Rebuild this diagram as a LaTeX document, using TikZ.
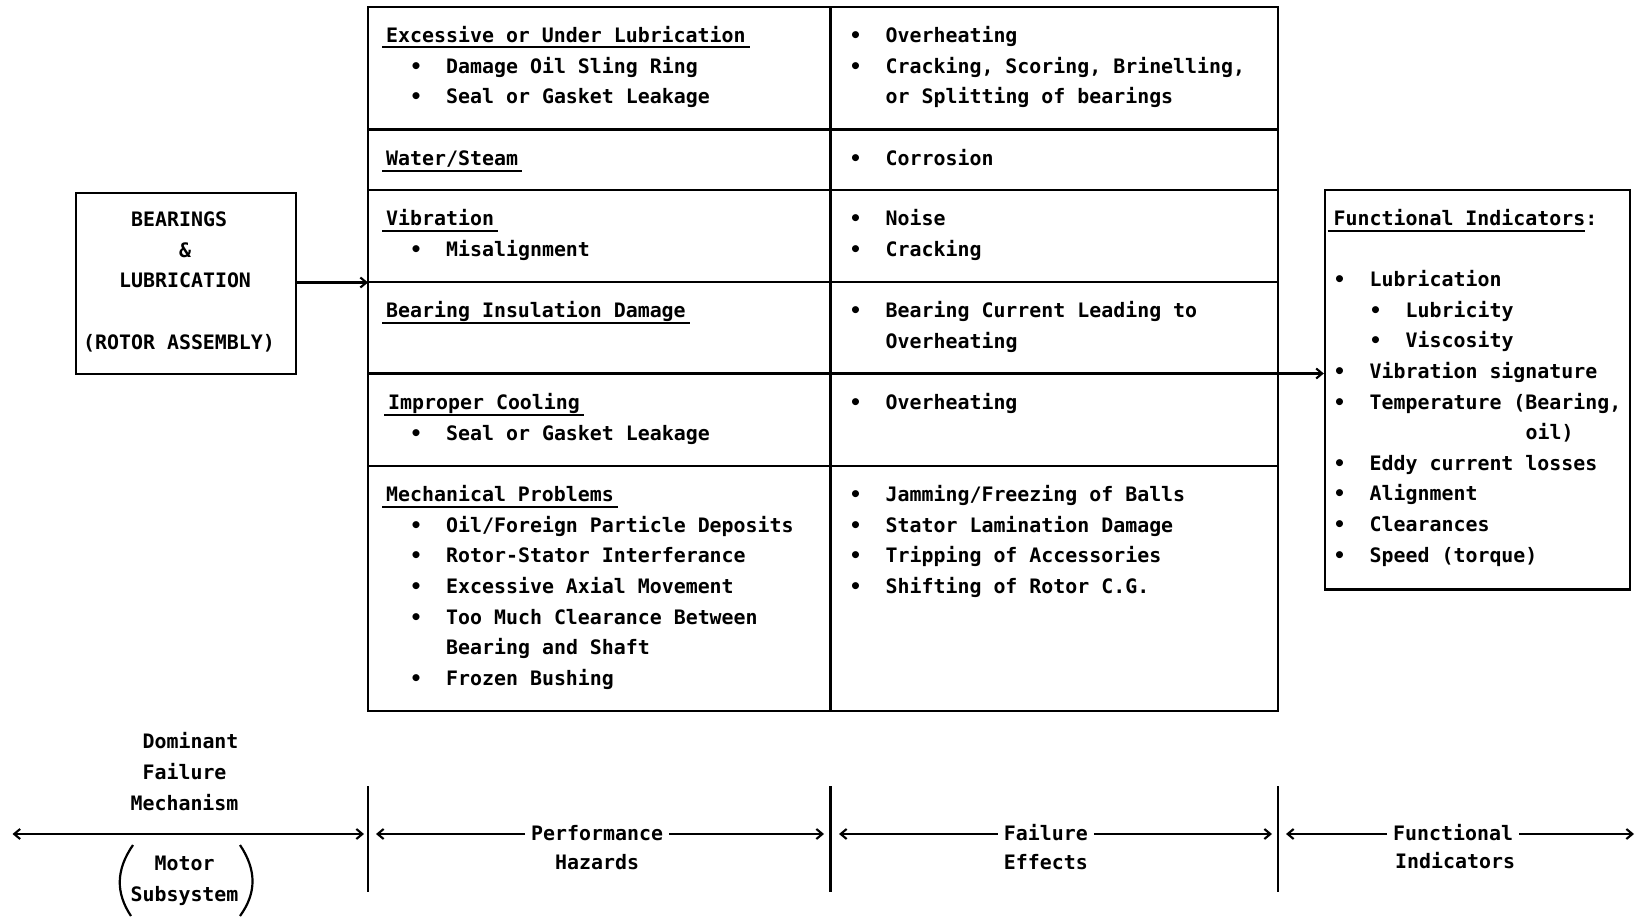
\documentclass[tikz,border=0pt]{standalone}
\usepackage{fontspec}
\setmainfont{DejaVu Sans Mono}
\usetikzlibrary{arrows.meta}
\newcommand{\tfont}{\fontsize{19.9pt}{24pt}\selectfont\bfseries}
\newcommand{\rb}{\makebox[12pt][c]{\textbullet}\hspace{24pt}}
\newcommand{\lb}{\makebox[60pt][c]{\textbullet}}
\begin{document}
\begin{tikzpicture}[x=1pt,y=-1pt,
  tx/.style={anchor=base west,inner sep=0pt,font=\tfont},
  grid/.style={line width=2.4pt},
  uline/.style={line width=2pt},
  arr/.style={line width=2.1pt,-{Straight Barb[length=6pt,width=10pt]}},
  dar/.style={line width=2.1pt,{Straight Barb[length=6pt,width=10pt]}-{Straight Barb[length=6pt,width=10pt]}},
  boxn/.style={draw,line width=2.4pt,inner sep=0pt}
]
\useasboundingbox (0,0) rectangle (1636,917);

% ---------- main table ----------
\draw[grid] (368,7) rectangle (1278,711);
\draw[grid] (830.5,7) -- (830.5,711);
\foreach \y in {129.5,190,282,373.5,466} \draw[grid] (368,\y) -- (1278,\y);

% ---------- left box ----------
\node[boxn,minimum width=220pt,minimum height=181pt] (bear) at (186,283.5) {};
\node[tx] (b1) at (131,227) {BEARINGS};
\node[tx] (b2) at (179,257.4) {\&};
\node[tx] (b3) at (119,287.7) {LUBRICATION};
\node[tx] (b4) at (83,349) {(ROTOR ASSEMBLY)};

% ---------- right box ----------
\node[boxn,minimum width=305pt,minimum height=399.5pt] (fib) at (1477.5,389.75) {};
\node[tx] (fi) at (1333.5,226) {Functional Indicators:};
\draw[uline] ([xshift=-6pt,yshift=-5pt]fi.base west) -- ([xshift=-12pt,yshift=-5pt]fi.base east);
\node[tx] (f1) at (1333.5,286.6) {\rb Lubrication};
\node[tx] (f2) at (1333.5,317.2) {\hspace{36pt}\rb Lubricity};
\node[tx] (f3) at (1333.5,347.8) {\hspace{36pt}\rb Viscosity};
\node[tx] (f4) at (1333.5,378.4) {\rb Vibration signature};
\node[tx] (f5) at (1333.5,409.0) {\rb Temperature (Bearing,};
\node[tx] (f6) at (1333.5,439.6) {\hspace{192pt}oil)};
\node[tx] (f7) at (1333.5,470.2) {\rb Eddy current losses};
\node[tx] (f8) at (1333.5,500.8) {\rb Alignment};
\node[tx] (f9) at (1333.5,531.4) {\rb Clearances};
\node[tx] (f10) at (1333.5,562.0) {\rb Speed (torque)};

% ---------- connectors ----------
\coordinate (tL) at (368,282.5);
\draw[arr] (bear.east |- tL) -- (tL);
\coordinate (tR) at (1278,373.5);
\draw[arr] (tR) -- (tR -| fib.west);

% ---------- row 1 ----------
\node[tx] (h1) at (386,42.5) {Excessive or Under Lubrication};
\node[tx] (l1a) at (386,73.5) {\lb Damage Oil Sling Ring};
\node[tx] (l1b) at (386,104) {\lb Seal or Gasket Leakage};
\node[tx] (r1a) at (849.5,42.5) {\rb Overheating};
\node[tx] (r1b) at (849.5,73.5) {\rb Cracking, Scoring, Brinelling,};
\node[tx] (r1c) at (849.5,104) {\hspace{36pt}or Splitting of bearings};
% ---------- row 2 ----------
\node[tx] (h2) at (386,165.6) {Water/Steam};
\node[tx] (r2a) at (849.5,165.6) {\rb Corrosion};
% ---------- row 3 ----------
\node[tx] (h3) at (386,226) {Vibration};
\node[tx] (l3a) at (386,256.5) {\lb Misalignment};
\node[tx] (r3a) at (849.5,226) {\rb Noise};
\node[tx] (r3b) at (849.5,256.5) {\rb Cracking};
% ---------- row 4 ----------
\node[tx] (h4) at (386,318) {Bearing Insulation Damage};
\node[tx] (r4a) at (849.5,318) {\rb Bearing Current Leading to};
\node[tx] (r4b) at (849.5,348.5) {\hspace{36pt}Overheating};
% ---------- row 5 ----------
\node[tx] (h5) at (388,409.8) {Improper Cooling};
\node[tx] (l5a) at (386,440.4) {\lb Seal or Gasket Leakage};
\node[tx] (r5a) at (849.5,409.8) {\rb Overheating};
% ---------- row 6 ----------
\node[tx] (h6) at (386,501.6) {Mechanical Problems};
\node[tx] (l6a) at (386,532.2) {\lb Oil/Foreign Particle Deposits};
\node[tx] (l6b) at (386,562.8) {\lb Rotor-Stator Interferance};
\node[tx] (l6c) at (386,593.4) {\lb Excessive Axial Movement};
\node[tx] (l6d) at (386,624.0) {\lb Too Much Clearance Between};
\node[tx] (l6e) at (386,654.6) {\hspace{60pt}Bearing and Shaft};
\node[tx] (l6f) at (386,685.2) {\lb Frozen Bushing};
\node[tx] (r6a) at (849.5,501.6) {\rb Jamming/Freezing of Balls};
\node[tx] (r6b) at (849.5,532.2) {\rb Stator Lamination Damage};
\node[tx] (r6c) at (849.5,562.8) {\rb Tripping of Accessories};
\node[tx] (r6d) at (849.5,593.4) {\rb Shifting of Rotor C.G.};

% underlines of headers
\foreach \h in {h1,h2,h3,h4,h5,h6}
  \draw[uline] ([xshift=-4pt,yshift=-5pt]\h.base west) -- ([xshift=4pt,yshift=-5pt]\h.base east);

% ---------- bottom legend ----------
\node[tx] (dom) at (142.4,748) {Dominant};
\node[tx] (fal) at (142.4,779) {Failure};
\node[tx] (mec) at (130.4,810) {Mechanism};
\node[tx] (mot) at (154.4,870) {Motor};
\node[tx] (sub) at (130.4,901) {Subsystem};
\draw[line width=2.2pt] (133,845) .. controls (115.7,870) and (115.7,893) .. (131,916);
\draw[line width=2.2pt] (240,845) .. controls (256.7,870) and (256.7,893) .. (240,916);
\coordinate (aL) at (12.5,834);
\coordinate (aR) at (364,834);
\draw[dar] (aL) -- (aR);

\draw[grid] (368,786) -- (368,892);
\draw[grid] (830.5,786) -- (830.5,892);
\draw[grid] (1278,786) -- (1278,892);

\node[tx,inner xsep=6pt] (perf) at (525,840) {Performance};
\node[tx] (haz) at (555,869) {Hazards};
\coordinate (pL) at (376,834);
\coordinate (pR) at (824,834);
\draw[arr] (perf.west |- pL) -- (pL);
\draw[arr] (perf.east |- pR) -- (pR);

\node[tx,inner xsep=6pt] (fe) at (997.7,840) {Failure};
\node[tx] (eff) at (1003.7,869) {Effects};
\coordinate (eL) at (839,834);
\coordinate (eR) at (1272,834);
\draw[arr] (fe.west |- eL) -- (eL);
\draw[arr] (fe.east |- eR) -- (eR);

\node[tx,inner xsep=6pt] (fn) at (1387,840) {Functional};
\node[tx] (ind) at (1395,868) {Indicators};
\coordinate (iL) at (1286,834);
\coordinate (iR) at (1634,834);
\draw[arr] (fn.west |- iL) -- (iL);
\draw[arr] (fn.east |- iR) -- (iR);
\end{tikzpicture}
\end{document}
